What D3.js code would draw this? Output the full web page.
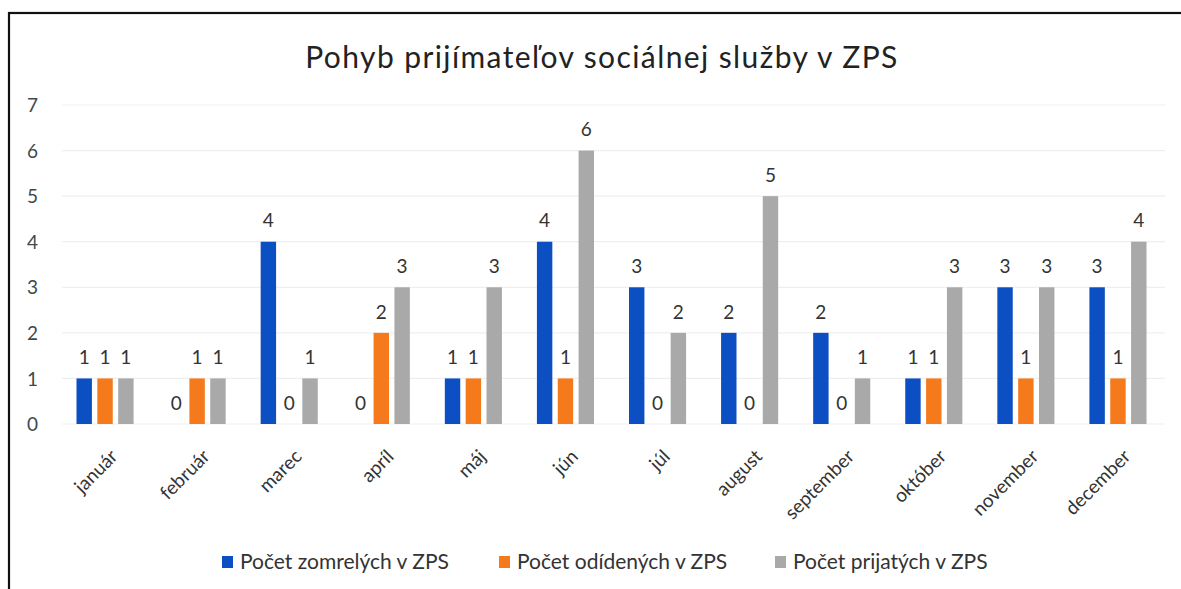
<!DOCTYPE html>
<html><head><meta charset="utf-8">
<script src="https://cdn.jsdelivr.net/npm/d3@7"></script>
<style>body{margin:0;background:#fff;} svg{display:block;font-family:Lato,"Noto Sans",sans-serif;}</style>
</head><body>
<script>
const months = ["január","február","marec","apríl","máj","jún","júl","august","september","október","november","december"];
const seriesNames = ["Počet zomrelých v ZPS","Počet odídených v ZPS","Počet prijatých v ZPS"];
const zomrelych = [1,0,4,0,1,4,3,2,2,1,3,3];
const odidenych = [1,1,0,2,1,1,0,0,0,1,1,1];
const prijatych = [1,1,1,3,3,6,2,5,1,3,3,4];
const yTicks = [0,1,2,3,4,5,6,7];
const colors = ["#0c4fc2","#f57a1c","#a9a9a9"];
const series = [zomrelych, odidenych, prijatych];

const W=1181,H=589;
const svg=d3.select("body").append("svg").attr("width",W).attr("height",H);
svg.append("rect").attr("x",9).attr("y",13).attr("width",1200).attr("height",620)
  .attr("fill","none").attr("stroke","#111").attr("stroke-width",2.2);

const x0=d3.scaleBand().domain(months).range([59,1164]).paddingInner(0.38).paddingOuter(0.19);
const x1=d3.scaleBand().domain([0,1,2]).range([0,x0.bandwidth()]).paddingInner(0.26);
const y=d3.scaleLinear().domain([0,7]).range([424,105]);

// gridlines
svg.append("g").selectAll("line").data(yTicks).join("line")
  .attr("x1",62).attr("x2",1165).attr("y1",d=>y(d)).attr("y2",d=>y(d))
  .attr("stroke","#efefef").attr("stroke-width",1.2);

// y axis labels
const yAxis=d3.axisLeft(y).tickValues(yTicks).tickFormat(d3.format("d")).tickSize(0).tickPadding(0);
const ya=svg.append("g").attr("transform","translate(38,0)").call(yAxis);
ya.select(".domain").remove();
ya.selectAll("text").attr("font-size",19).attr("fill","#3d4a4c").attr("font-family","Lato,sans-serif").attr("dy","0.35em");

// bars
const groups=svg.append("g").selectAll("g").data(months).join("g")
  .attr("transform",d=>`translate(${x0(d)},0)`);
groups.selectAll("rect").data((m,i)=>series.map((s,k)=>({k,v:s[i]}))).join("rect")
  .attr("x",d=>x1(d.k)).attr("width",x1.bandwidth())
  .attr("y",d=>y(d.v)).attr("height",d=>y(0)-y(d.v))
  .attr("fill",d=>colors[d.k]);
groups.selectAll("text").data((m,i)=>series.map((s,k)=>({k,v:s[i]}))).join("text")
  .attr("x",d=>x1(d.k)+x1.bandwidth()/2).attr("y",d=>y(d.v)-21)
  .attr("dy","0.35em").attr("text-anchor","middle").attr("font-size",19)
  .attr("fill","#333").text(d=>d.v);

// x axis labels
const xAxis=d3.axisBottom(x0).tickSize(0).tickPadding(0);
const xa=svg.append("g").call(xAxis);
xa.select(".domain").remove();
xa.selectAll(".tick").attr("transform",d=>`translate(${x0(d)+x0.bandwidth()/2+9},453)`);
xa.selectAll("text").attr("y",0).attr("dy","0.35em").attr("transform","rotate(-45)")
  .attr("text-anchor","end").attr("font-size",19).attr("fill","#333").attr("font-family","Lato,sans-serif");

// title
svg.append("text").attr("x",602).attr("y",57).attr("dy","0.35em").attr("text-anchor","middle")
  .attr("font-size",30).attr("letter-spacing",1.4).attr("fill","#222").text("Pohyb prijímateľov sociálnej služby v ZPS");

// legend
const legX=[222,499,775];
const leg=svg.append("g").selectAll("g").data(seriesNames).join("g")
  .attr("transform",(d,i)=>`translate(${legX[i]},562)`);
leg.append("rect").attr("x",0).attr("y",-6).attr("width",11).attr("height",12).attr("fill",(d,i)=>colors[i]);
leg.append("text").attr("x",18).attr("y",0).attr("dy","0.35em").attr("font-size",21).attr("fill","#333").text(d=>d);
</script>
</body></html>
